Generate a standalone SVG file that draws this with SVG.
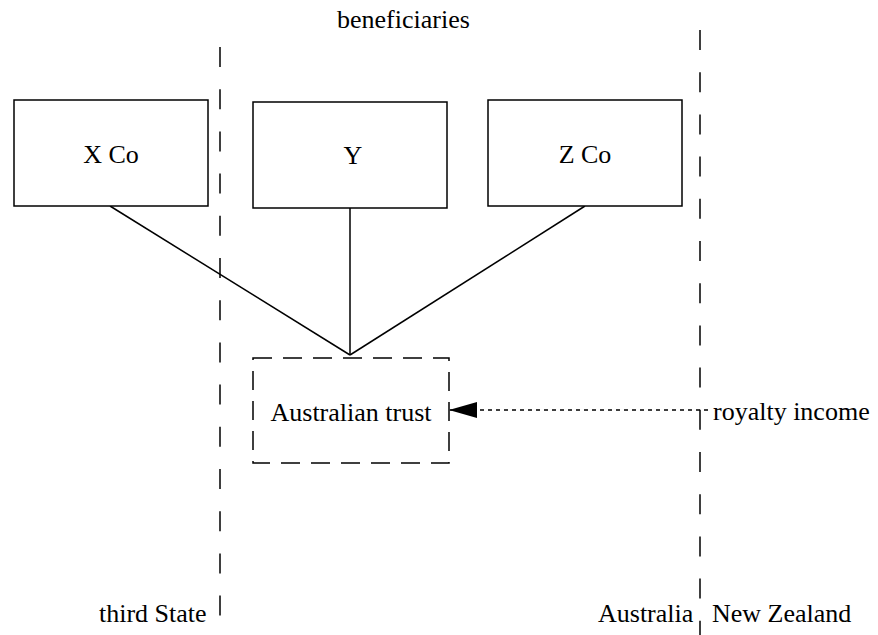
<svg xmlns="http://www.w3.org/2000/svg" width="878" height="635" viewBox="0 0 878 635">
<style>
text{font-family:"Liberation Serif","Times New Roman",serif;font-size:26px;fill:#000}
.box{fill:#fff;stroke:#000;stroke-width:1.5}
.border{stroke:#000;stroke-width:1.5;stroke-dasharray:20 22.2;fill:none}
.link{stroke:#000;stroke-width:1.5;fill:none}
</style>
<defs>
<marker id="ah" markerWidth="28" markerHeight="16" refX="27" refY="8" orient="auto" markerUnits="userSpaceOnUse">
<path d="M0,0 L28,8 L0,16 Z" fill="#000"/>
</marker>
</defs>
<g id="borders">
<line class="border" x1="220" y1="47" x2="220" y2="620"/>
<line class="border" x1="700" y1="30" x2="700" y2="635"/>
</g>
<g id="labels">
<text x="337" y="28">beneficiaries</text>
<text x="99" y="622">third State</text>
<text x="598" y="622">Australia</text>
<text x="712" y="622">New Zealand</text>
<text x="713" y="420">royalty income</text>
</g>
<g id="connectors">
<line class="link" x1="110" y1="206" x2="350" y2="355"/>
<line class="link" x1="350" y1="208" x2="350" y2="355"/>
<line class="link" x1="585" y1="206" x2="350" y2="355"/>
<line class="link" x1="708" y1="410" x2="450" y2="410" stroke-dasharray="4 4" marker-end="url(#ah)"/>
</g>
<g id="xco">
<rect class="box" x="14" y="100" width="194" height="106"/>
<text x="111" y="163" text-anchor="middle">X Co</text>
</g>
<g id="y">
<rect class="box" x="253" y="102" width="194" height="106"/>
<text x="353" y="164" text-anchor="middle">Y</text>
</g>
<g id="zco">
<rect class="box" x="488" y="100" width="194" height="106"/>
<text x="585" y="163" text-anchor="middle">Z Co</text>
</g>
<g id="trust">
<rect x="253" y="358" width="196" height="105" fill="none" stroke="#000" stroke-width="1.5" stroke-dasharray="19 11"/>
<text x="351" y="421" text-anchor="middle">Australian trust</text>
</g>
</svg>
